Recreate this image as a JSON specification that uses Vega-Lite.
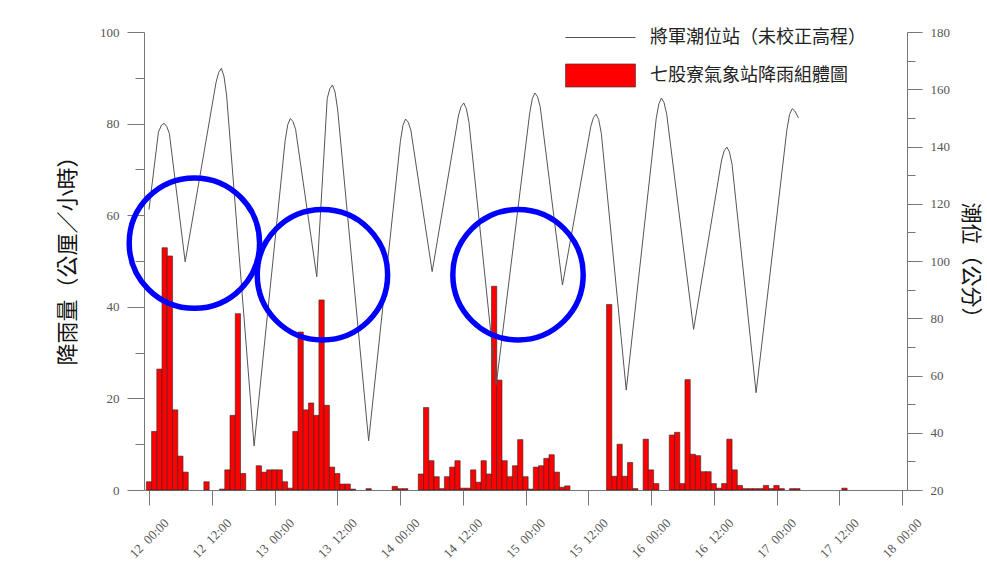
{
  "$schema": "https://vega.github.io/schema/vega-lite/v6.json",
  "width": 763,
  "height": 458,
  "autosize": {"type": "none"},
  "padding": {"left": 144, "top": 32, "right": 80, "bottom": 74},
  "background": "white",
  "config": {
    "view": {"stroke": null},
    "axis": {
      "grid": false,
      "domainColor": "#777777",
      "tickColor": "#777777",
      "domainWidth": 1,
      "tickWidth": 1,
      "labelColor": "#555555",
      "labelFont": "Liberation Serif",
      "labelFontSize": 13
    }
  },
  "datasets": {
    "rain": [
      {"time": "2008-06-12T00:00", "rain": 1.8},
      {"time": "2008-06-12T01:00", "rain": 12.8},
      {"time": "2008-06-12T02:00", "rain": 26.4},
      {"time": "2008-06-12T03:00", "rain": 52.9},
      {"time": "2008-06-12T04:00", "rain": 51.1},
      {"time": "2008-06-12T05:00", "rain": 17.5},
      {"time": "2008-06-12T06:00", "rain": 7.4},
      {"time": "2008-06-12T07:00", "rain": 3.9},
      {"time": "2008-06-12T11:00", "rain": 1.8},
      {"time": "2008-06-12T14:00", "rain": 0.2},
      {"time": "2008-06-12T15:00", "rain": 4.4},
      {"time": "2008-06-12T16:00", "rain": 16.3},
      {"time": "2008-06-12T17:00", "rain": 38.5},
      {"time": "2008-06-12T18:00", "rain": 3.6},
      {"time": "2008-06-12T21:00", "rain": 5.3},
      {"time": "2008-06-12T22:00", "rain": 3.9},
      {"time": "2008-06-12T23:00", "rain": 4.4},
      {"time": "2008-06-13T00:00", "rain": 4.4},
      {"time": "2008-06-13T01:00", "rain": 4.4},
      {"time": "2008-06-13T02:00", "rain": 1.8},
      {"time": "2008-06-13T03:00", "rain": 0.4},
      {"time": "2008-06-13T04:00", "rain": 12.8},
      {"time": "2008-06-13T05:00", "rain": 34.5},
      {"time": "2008-06-13T06:00", "rain": 17.5},
      {"time": "2008-06-13T07:00", "rain": 19},
      {"time": "2008-06-13T08:00", "rain": 16.3},
      {"time": "2008-06-13T09:00", "rain": 41.5},
      {"time": "2008-06-13T10:00", "rain": 18.5},
      {"time": "2008-06-13T11:00", "rain": 5},
      {"time": "2008-06-13T12:00", "rain": 3.6},
      {"time": "2008-06-13T13:00", "rain": 1.3},
      {"time": "2008-06-13T14:00", "rain": 1.3},
      {"time": "2008-06-13T15:00", "rain": 0.2},
      {"time": "2008-06-13T18:00", "rain": 0.3},
      {"time": "2008-06-13T23:00", "rain": 0.8},
      {"time": "2008-06-14T00:00", "rain": 0.3},
      {"time": "2008-06-14T01:00", "rain": 0.3},
      {"time": "2008-06-14T04:00", "rain": 3.5},
      {"time": "2008-06-14T05:00", "rain": 18},
      {"time": "2008-06-14T06:00", "rain": 6.4},
      {"time": "2008-06-14T07:00", "rain": 2.9},
      {"time": "2008-06-14T08:00", "rain": 0.3},
      {"time": "2008-06-14T09:00", "rain": 2.9},
      {"time": "2008-06-14T10:00", "rain": 5},
      {"time": "2008-06-14T11:00", "rain": 6.4},
      {"time": "2008-06-14T12:00", "rain": 0.4},
      {"time": "2008-06-14T13:00", "rain": 0.4},
      {"time": "2008-06-14T14:00", "rain": 4.4},
      {"time": "2008-06-14T15:00", "rain": 1.7},
      {"time": "2008-06-14T16:00", "rain": 6.4},
      {"time": "2008-06-14T17:00", "rain": 3.5},
      {"time": "2008-06-14T18:00", "rain": 44.5},
      {"time": "2008-06-14T19:00", "rain": 24},
      {"time": "2008-06-14T20:00", "rain": 6.4},
      {"time": "2008-06-14T21:00", "rain": 2.9},
      {"time": "2008-06-14T22:00", "rain": 5.3},
      {"time": "2008-06-14T23:00", "rain": 11},
      {"time": "2008-06-15T00:00", "rain": 2.9},
      {"time": "2008-06-15T01:00", "rain": 0.2},
      {"time": "2008-06-15T02:00", "rain": 5},
      {"time": "2008-06-15T03:00", "rain": 5.3},
      {"time": "2008-06-15T04:00", "rain": 6.9},
      {"time": "2008-06-15T05:00", "rain": 7.7},
      {"time": "2008-06-15T06:00", "rain": 3.9},
      {"time": "2008-06-15T07:00", "rain": 0.6},
      {"time": "2008-06-15T08:00", "rain": 0.9},
      {"time": "2008-06-15T16:00", "rain": 40.5},
      {"time": "2008-06-15T17:00", "rain": 3},
      {"time": "2008-06-15T18:00", "rain": 10},
      {"time": "2008-06-15T19:00", "rain": 3},
      {"time": "2008-06-15T20:00", "rain": 6},
      {"time": "2008-06-15T21:00", "rain": 0.3},
      {"time": "2008-06-15T23:00", "rain": 11.1},
      {"time": "2008-06-16T00:00", "rain": 4.4},
      {"time": "2008-06-16T01:00", "rain": 1.4},
      {"time": "2008-06-16T04:00", "rain": 12},
      {"time": "2008-06-16T05:00", "rain": 12.6},
      {"time": "2008-06-16T06:00", "rain": 1.4},
      {"time": "2008-06-16T07:00", "rain": 24.1},
      {"time": "2008-06-16T08:00", "rain": 7.8},
      {"time": "2008-06-16T09:00", "rain": 7.5},
      {"time": "2008-06-16T10:00", "rain": 4},
      {"time": "2008-06-16T11:00", "rain": 4},
      {"time": "2008-06-16T12:00", "rain": 1.4},
      {"time": "2008-06-16T13:00", "rain": 0.4},
      {"time": "2008-06-16T14:00", "rain": 1.4},
      {"time": "2008-06-16T15:00", "rain": 11.1},
      {"time": "2008-06-16T16:00", "rain": 4.4},
      {"time": "2008-06-16T17:00", "rain": 1},
      {"time": "2008-06-16T18:00", "rain": 0.3},
      {"time": "2008-06-16T19:00", "rain": 0.3},
      {"time": "2008-06-16T20:00", "rain": 0.3},
      {"time": "2008-06-16T21:00", "rain": 0.3},
      {"time": "2008-06-16T22:00", "rain": 1},
      {"time": "2008-06-16T23:00", "rain": 0.3},
      {"time": "2008-06-17T00:00", "rain": 1},
      {"time": "2008-06-17T01:00", "rain": 0.3},
      {"time": "2008-06-17T03:00", "rain": 0.3},
      {"time": "2008-06-17T04:00", "rain": 0.3},
      {"time": "2008-06-17T13:00", "rain": 0.4}
    ],
    "tide": [
      {"time": "2008-06-12T00:00", "level": 118},
      {"time": "2008-06-12T01:48", "level": 145},
      {"time": "2008-06-12T02:24", "level": 147.5},
      {"time": "2008-06-12T02:54", "level": 148.1},
      {"time": "2008-06-12T03:24", "level": 147},
      {"time": "2008-06-12T03:54", "level": 144.5},
      {"time": "2008-06-12T06:55", "level": 99.7},
      {"time": "2008-06-12T12:50", "level": 162.5},
      {"time": "2008-06-12T13:20", "level": 165.9},
      {"time": "2008-06-12T13:50", "level": 167.3},
      {"time": "2008-06-12T14:20", "level": 164.6},
      {"time": "2008-06-12T14:50", "level": 158},
      {"time": "2008-06-12T20:06", "level": 35.4},
      {"time": "2008-06-13T02:02", "level": 142},
      {"time": "2008-06-13T02:32", "level": 147.6},
      {"time": "2008-06-13T03:02", "level": 149.8},
      {"time": "2008-06-13T03:32", "level": 148.7},
      {"time": "2008-06-13T04:02", "level": 146},
      {"time": "2008-06-13T08:05", "level": 94.5},
      {"time": "2008-06-13T10:05", "level": 156.8},
      {"time": "2008-06-13T10:35", "level": 160.2},
      {"time": "2008-06-13T11:05", "level": 161.5},
      {"time": "2008-06-13T11:35", "level": 159},
      {"time": "2008-06-13T12:05", "level": 152.8},
      {"time": "2008-06-13T18:00", "level": 37.2},
      {"time": "2008-06-14T00:04", "level": 141.7},
      {"time": "2008-06-14T00:34", "level": 147.4},
      {"time": "2008-06-14T01:04", "level": 149.6},
      {"time": "2008-06-14T01:34", "level": 148.5},
      {"time": "2008-06-14T02:04", "level": 145.8},
      {"time": "2008-06-14T06:09", "level": 96.3},
      {"time": "2008-06-14T11:12", "level": 151},
      {"time": "2008-06-14T11:42", "level": 154},
      {"time": "2008-06-14T12:12", "level": 155.2},
      {"time": "2008-06-14T12:42", "level": 153.2},
      {"time": "2008-06-14T13:12", "level": 148.3},
      {"time": "2008-06-14T18:24", "level": 56.7},
      {"time": "2008-06-15T00:48", "level": 151.6},
      {"time": "2008-06-15T01:18", "level": 156.7},
      {"time": "2008-06-15T01:48", "level": 158.7},
      {"time": "2008-06-15T02:18", "level": 157.4},
      {"time": "2008-06-15T02:48", "level": 154},
      {"time": "2008-06-15T07:04", "level": 91.6},
      {"time": "2008-06-15T12:30", "level": 147.1},
      {"time": "2008-06-15T13:00", "level": 150.1},
      {"time": "2008-06-15T13:30", "level": 151.3},
      {"time": "2008-06-15T14:00", "level": 149.4},
      {"time": "2008-06-15T14:30", "level": 144.6},
      {"time": "2008-06-15T19:16", "level": 54.9},
      {"time": "2008-06-16T01:00", "level": 149.8},
      {"time": "2008-06-16T01:30", "level": 154.9},
      {"time": "2008-06-16T02:00", "level": 156.9},
      {"time": "2008-06-16T02:30", "level": 155.3},
      {"time": "2008-06-16T03:00", "level": 151.3},
      {"time": "2008-06-16T08:09", "level": 76.1},
      {"time": "2008-06-16T13:30", "level": 135.3},
      {"time": "2008-06-16T14:00", "level": 138.5},
      {"time": "2008-06-16T14:30", "level": 139.8},
      {"time": "2008-06-16T15:00", "level": 138.1},
      {"time": "2008-06-16T15:30", "level": 133.8},
      {"time": "2008-06-16T20:06", "level": 54},
      {"time": "2008-06-17T02:00", "level": 146},
      {"time": "2008-06-17T02:30", "level": 151.2},
      {"time": "2008-06-17T03:00", "level": 153.2},
      {"time": "2008-06-17T03:30", "level": 152.4},
      {"time": "2008-06-17T04:12", "level": 150}
    ],
    "highlights": [
      {"time": "2008-06-12T08:41", "rain": 53.9},
      {"time": "2008-06-13T09:10", "rain": 47.0},
      {"time": "2008-06-14T22:34", "rain": 47.0}
    ]
  },
  "layer": [
    {
      "data": {"name": "rain"},
      "mark": {"type": "bar", "size": 5.3, "stroke": "#2a2a2a", "strokeWidth": 0.6},
      "encoding": {
        "x": {
          "field": "time",
          "type": "temporal",
          "scale": {
            "domain": [
              {"year": 2008, "month": 6, "date": 12, "hours": 0},
              {"year": 2008, "month": 6, "date": 18, "hours": 0}
            ],
            "nice": false
          },
          "axis": {
            "values": [
              {"year": 2008, "month": 6, "date": 12, "hours": 0},
              {"year": 2008, "month": 6, "date": 12, "hours": 12},
              {"year": 2008, "month": 6, "date": 13, "hours": 0},
              {"year": 2008, "month": 6, "date": 13, "hours": 12},
              {"year": 2008, "month": 6, "date": 14, "hours": 0},
              {"year": 2008, "month": 6, "date": 14, "hours": 12},
              {"year": 2008, "month": 6, "date": 15, "hours": 0},
              {"year": 2008, "month": 6, "date": 15, "hours": 12},
              {"year": 2008, "month": 6, "date": 16, "hours": 0},
              {"year": 2008, "month": 6, "date": 16, "hours": 12},
              {"year": 2008, "month": 6, "date": 17, "hours": 0},
              {"year": 2008, "month": 6, "date": 17, "hours": 12},
              {"year": 2008, "month": 6, "date": 18, "hours": 0}
            ],
            "format": "%d\u00a0\u00a0%H:%M",
            "title": null,
            "labelAngle": -45,
            "labelAlign": "center",
            "labelBaseline": "middle",
            "labelPadding": 33,
            "tickSize": 15,
            "labelOverlap": false,
            "labelFlush": false
          }
        },
        "y": {
          "field": "rain",
          "type": "quantitative",
          "scale": {"domain": [0, 100], "nice": false},
          "axis": {
            "orient": "left",
            "values": [0, 10, 20, 30, 40, 50, 60, 70, 80, 90, 100],
            "tickSize": {"condition": {"test": "datum.value % 20 === 0", "value": 17}, "value": 9},
            "labelExpr": "datum.value % 20 === 0 ? datum.label : ''",
            "labelPadding": 8,
            "title": "降雨量（公厘／小時）",
            "titleAngle": -90,
            "titleX": -77,
            "titleY": 223,
            "titleAlign": "center",
            "titleBaseline": "middle",
            "titleFont": "Noto Sans CJK TC",
            "titleFontSize": 22,
            "titleFontWeight": "normal",
            "titleColor": "#111111"
          }
        },
        "fill": {
          "datum": "七股寮氣象站降雨組體圖",
          "type": "nominal",
          "scale": {"range": ["#ff0000"]},
          "legend": {
            "orient": "none",
            "legendX": 421,
            "legendY": 8,
            "title": null,
            "padding": 0,
            "symbolType": "M-1,-0.33H1V0.33H-1Z",
            "symbolSize": 4900,
            "symbolStrokeColor": "#333333",
            "symbolStrokeWidth": 0.6,
            "symbolOpacity": 1,
            "labelFont": "Noto Sans CJK TC",
            "labelFontSize": 18,
            "labelColor": "#222222",
            "labelOffset": 14,
            "labelLimit": 400
          }
        }
      }
    },
    {
      "data": {"name": "tide"},
      "mark": {"type": "line", "strokeWidth": 1, "interpolate": "linear"},
      "encoding": {
        "x": {"field": "time", "type": "temporal"},
        "y": {
          "field": "level",
          "type": "quantitative",
          "scale": {"domain": [20, 180], "nice": false},
          "axis": {
            "orient": "right",
            "values": [20, 30, 40, 50, 60, 70, 80, 90, 100, 110, 120, 130, 140, 150, 160, 170, 180],
            "tickSize": {"condition": {"test": "datum.value % 20 === 0", "value": 15}, "value": 8},
            "labelExpr": "datum.value % 20 === 0 ? datum.label : ''",
            "labelPadding": 8,
            "title": "潮位（公分）",
            "titleAngle": 90,
            "titleX": 62,
            "titleY": 233,
            "titleAlign": "center",
            "titleBaseline": "middle",
            "titleFont": "Noto Sans CJK TC",
            "titleFontSize": 21,
            "titleFontWeight": "normal",
            "titleColor": "#111111"
          }
        },
        "stroke": {
          "datum": "將軍潮位站（未校正高程）",
          "type": "nominal",
          "scale": {"range": ["#555555"]},
          "legend": {
            "orient": "none",
            "legendX": 421,
            "legendY": -30,
            "title": null,
            "padding": 0,
            "symbolType": "M-1,0H1",
            "symbolSize": 4900,
            "symbolStrokeWidth": 1,
            "labelFont": "Noto Sans CJK TC",
            "labelFontSize": 18,
            "labelColor": "#222222",
            "labelOffset": 14,
            "labelLimit": 400
          }
        }
      }
    },
    {
      "data": {"name": "highlights"},
      "mark": {"type": "point", "shape": "circle", "filled": false, "size": 17000, "color": "#0000ff", "stroke": "#0000ff", "strokeWidth": 5.5, "opacity": 1},
      "encoding": {
        "x": {"field": "time", "type": "temporal"},
        "y": {"field": "rain", "type": "quantitative", "scale": {"domain": [0, 100], "nice": false}, "axis": null}
      }
    }
  ],
  "resolve": {"scale": {"y": "independent"}, "axis": {"y": "independent"}}
}
